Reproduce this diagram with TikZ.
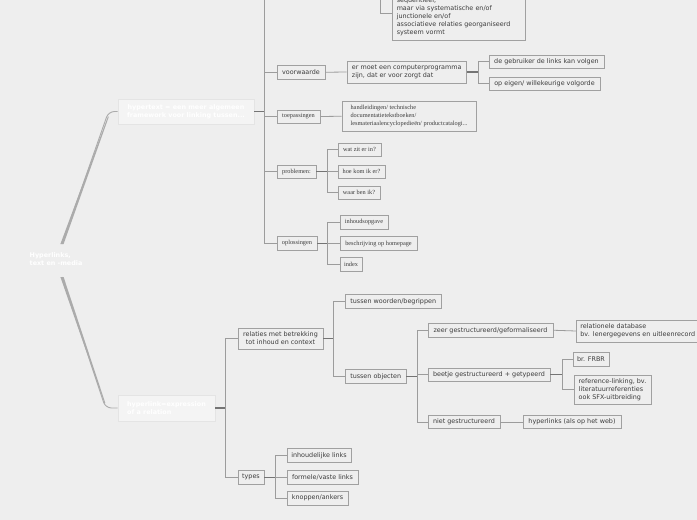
\documentclass[tikz,border=0pt]{standalone}
\usepackage{fontspec}
\setmainfont{DejaVu Sans}
\newfontfamily\smserif{Liberation Serif}
\usetikzlibrary{shadows,calc}
\definecolor{bgc}{HTML}{EEEEEE}
\definecolor{boxc}{HTML}{A0A0A0}
\definecolor{txtc}{HTML}{3C3C3C}
\definecolor{brc}{HTML}{9C9C9C}
\definecolor{stubc}{HTML}{747474}
\definecolor{hlfill}{HTML}{F4F4F4}
\definecolor{hlbord}{HTML}{E4E4E4}
\definecolor{rootc}{HTML}{ABABAB}
\begin{document}
\begin{tikzpicture}[x=1pt,y=-1pt,
 mm/.style={draw=boxc, line width=0.8pt, fill=bgc, text=txtc, font=\fontsize{6.4}{8}\selectfont, inner xsep=4pt, inner ysep=1.5pt, align=left},
 mms/.style={mm, font=\smserif\fontsize{6.3}{8}\selectfont},
 wt/.style={draw=hlbord, line width=0.6pt, fill=hlfill, text=white, font=\bfseries\fontsize{6.4}{8}\selectfont, drop shadow={shadow xshift=0.8pt, shadow yshift=-0.8pt, opacity=0.12}, inner sep=1pt},
 br/.style={draw=brc, line width=0.8pt},
 stub/.style={draw=stubc, line width=1.1pt},
 sz/.style 2 args={minimum width=#1pt, minimum height=#2pt},
]
\useasboundingbox (0,0) rectangle (697,520);
\clip (0,0) rectangle (697,520);
\fill[bgc] (0,0) rectangle (697,520);

% root
\node[text=white, font=\bfseries\fontsize{6.4}{8}\selectfont, align=left, inner sep=0pt, anchor=west] (root) at (29.5,259.5) {Hyperlinks,\\text en -media};

% upper branch
\node[wt, sz={136}{25}, align=center] (ht) at (186,111.5) {hypertext = een meer algemeen\\framework voor linking tussen...};
\node[mm, minimum height=46pt, text width=125pt] (seq) at (459.25,17) {sequentieel,\\maar via systematische en/of\\junctionele en/of\\associatieve relaties georganiseerd\\systeem vormt};
\node[mm, sz={48}{14.5}] (voor) at (301,72.25) {voorwaarde};
\node[mm, sz={119.5}{22}] (comp) at (406.75,72) {er moet een computerprogramma\\zijn, dat er voor zorgt dat};
\node[mm, sz={115}{13}] (gebr) at (546.5,61.5) {de gebruiker de links kan volgen};
\node[mm, sz={111}{13}] (eigen) at (544.5,83.5) {op eigen/ willekeurige volgorde};
\node[mms, sz={43}{13}] (toep) at (298.5,116.5) {toepassingen};
\node[mms, sz={134}{29.5}] (hand) at (409,116.25) {handleidingen/ technische\\documentatietekstboeken/\\lesmateriaalencyclopedieën/ productcatalogi...};
\node[mms, sz={39}{13}] (prob) at (296.5,171.5) {problemen:};
\node[mms, sz={43}{13.5}] (wat) at (359.5,149.75) {wat zit er in?};
\node[mms, sz={47}{13.5}] (hoe) at (361.5,171.75) {hoe kom ik er?};
\node[mms, sz={42}{13}] (waar) at (359,192.5) {waar ben ik?};
\node[mms, sz={40}{13.5}] (opl) at (297,243.25) {oplossingen};
\node[mms, sz={48}{13.5}] (inh) at (364,222.25) {inhoudsopgave};
\node[mms, sz={77}{14}] (besch) at (378.5,243.5) {beschrijving op homepage};
\node[mms, sz={22}{13.5}] (index) at (351,264.25) {index};

% lower branch
\node[wt, sz={97}{26}, align=left] (hl) at (166.5,408) {hyperlink=expression\\of a relation};
\node[mm, sz={85}{21}, align=center] (rel) at (280.5,338.5) {relaties met betrekking\\tot inhoud en context};
\node[mm, sz={95.5}{13.5}] (tw) at (393.25,301.25) {tussen woorden/begrippen};
\node[mm, sz={60.5}{13.5}] (to) at (375.75,376.25) {tussen objecten};
\node[mm, sz={125}{13.5}] (zeer) at (490.5,330.25) {zeer gestructureerd/geformaliseerd};
\node[mm, minimum height=22pt, text width=124pt, anchor=west] (reldb) at (576,331) {relationele database\\bv. lenergegevens en uitleenrecord};
\node[mm, sz={122}{13.5}] (beet) at (489,374.75) {beetje gestructureerd + getypeerd};
\node[mm, sz={34}{13.5}] (frbr) at (591,359.25) {br. FRBR};
\node[mm, sz={77}{29}] (ref) at (612.5,389.5) {reference-linking, bv.\\literatuurreferenties\\ook SFX-uitbreiding};
\node[mm, sz={72}{13}] (niet) at (464,422) {niet gestructureerd};
\node[mm, sz={98}{13}] (hyp) at (572,422) {hyperlinks (als op het web)};
\node[mm, sz={26}{13.5}] (types) at (251,477.25) {types};
\node[mm, sz={64}{13.5}] (inhl) at (319,455.25) {inhoudelijke links};
\node[mm, sz={71}{14}] (form) at (322.5,477) {formele/vaste links};
\node[mm, sz={61}{14}] (knop) at (317.5,498) {knoppen/ankers};

% root links (tapered)
\coordinate (ru) at (62,244);
\coordinate (rd) at (62,277);
\coordinate (htb) at (108.5,111.5);
\coordinate (hlb) at (105.5,408);
\fill[rootc] ($(ru)+(-1.6,0)$) -- ($(htb)+(-0.6,5)$) -- ($(htb)+(0.4,5)$) -- ($(ru)+(1.6,0)$) -- cycle;
\draw[rootc, line width=0.9pt, rounded corners=6pt] (ru) -- (htb) -- (ht.west);
\fill[rootc] ($(rd)+(-1.6,0)$) -- ($(hlb)+(-1.2,-5)$) -- ($(hlb)+(-0.2,-5)$) -- ($(rd)+(1.6,0)$) -- cycle;
\draw[rootc, line width=0.9pt, rounded corners=6pt] (rd) -- (hlb) -- (hl.west);

% hypertext subtree
\coordinate (httop) at (264,-5);
\draw[stub] (ht.east) -- (ht.east -| httop) coordinate (htT);
\draw[br] (htT) -- (httop);
\draw[br] (htT) |- (voor.west);
\draw[br] (htT) |- (toep.west);
\draw[br] (htT) |- (prob.west);
\draw[br] (htT) |- (opl.west);
\coordinate (seqp) at (380,-5);
\draw[br] (seqp) |- ($(seq.west)+(0,-4)$);
\draw[br] (voor.east) -- (comp.west);
\draw[stub] (comp.east) -- ++(11.5,0) coordinate (cT);
\draw[br] (cT) |- (gebr.west);
\draw[br] (cT) |- (eigen.west);
\draw[br] (toep.east) -- (hand.west);
\draw[stub] (prob.east) -- ++(10.5,0) coordinate (pT);
\draw[br] (pT) |- (wat.west);
\draw[br] (pT) |- (hoe.west);
\draw[br] (pT) |- (waar.west);
\draw[stub] (opl.east) -- ++(10,0) coordinate (oT);
\draw[br] (oT) |- (inh.west);
\draw[br] (oT) |- (besch.west);
\draw[br] (oT) |- (index.west);

% hyperlink subtree
\draw[stub] (hl.east) -- ++(10.5,0) coordinate (hT);
\draw[br] (hT) |- (rel.west);
\draw[br] (hT) |- (types.west);
\draw[stub] (rel.east) -- ++(10,0) coordinate (rT);
\draw[br] (rT) |- (tw.west);
\draw[br] (rT) |- (to.west);
\draw[stub] (to.east) -- ++(10.5,0) coordinate (tT);
\draw[br] (tT) |- (zeer.west);
\draw[br] (tT) |- (beet.west);
\draw[br] (tT) |- (niet.west);
\draw[br] (zeer.east) -- (reldb.west);
\draw[stub] (beet.east) -- ++(12,0) coordinate (bT);
\draw[br] (bT) |- (frbr.west);
\draw[br] (bT) |- (ref.west);
\draw[br] (niet.east) -- (hyp.west);
\draw[stub] (types.east) -- ++(10.5,0) coordinate (yT);
\draw[br] (yT) |- (inhl.west);
\draw[br] (yT) |- (form.west);
\draw[br] (yT) |- (knop.west);
\end{tikzpicture}
\end{document}
